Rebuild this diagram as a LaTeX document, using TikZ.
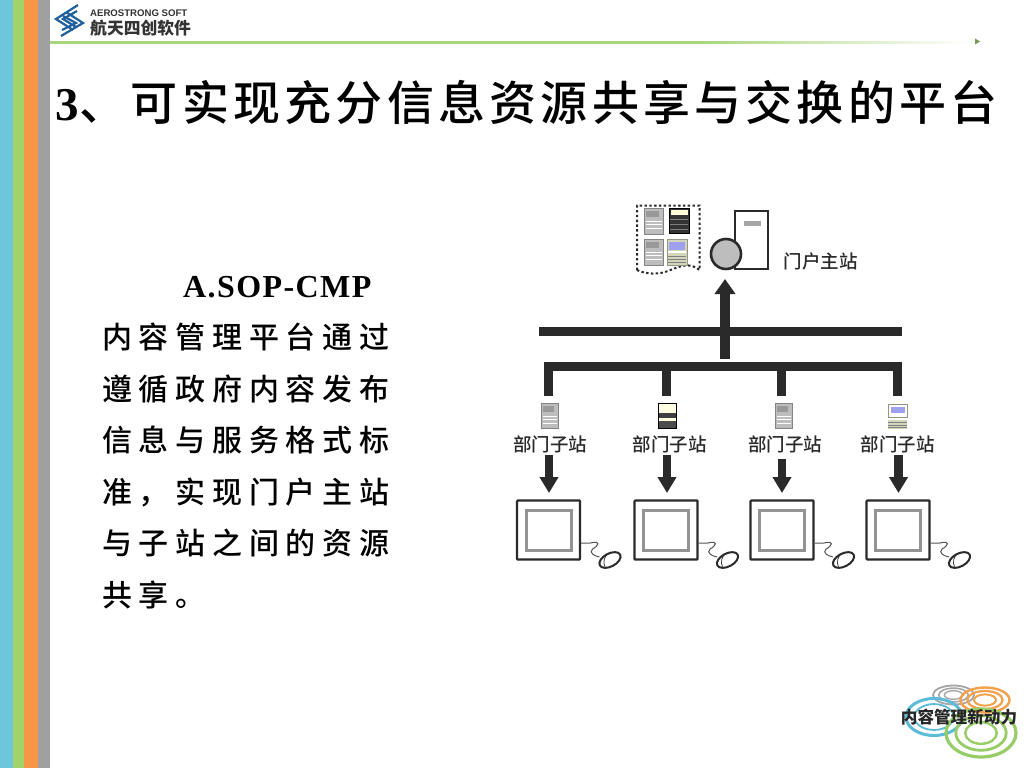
\documentclass[tikz,border=0pt]{standalone}
\usepackage{fontspec}
\usetikzlibrary{arrows.meta,shapes.geometric}
\setmainfont{Liberation Serif}
\setsansfont{Liberation Sans}
\newfontfamily\cjk{Noto Sans CJK SC}
\newfontfamily\cjktitle[LetterSpace=9]{Noto Sans CJK SC Medium}
\newfontfamily\cjkbody[LetterSpace=22.4]{Noto Sans CJK SC Medium}
\newfontfamily\cjklabel{Noto Sans CJK SC Medium}
\definecolor{bandblue}{HTML}{6EC6DC}
\definecolor{bandgreen}{HTML}{A0D468}
\definecolor{bandorange}{HTML}{F79646}
\definecolor{bandgrey}{HTML}{A0A0A0}
\definecolor{rulegreen}{HTML}{A8D67E}
\definecolor{barink}{HTML}{2A2A2A}
\definecolor{logoblue}{HTML}{1F5F9E}
\definecolor{ringgrey}{HTML}{A6A6A6}
\definecolor{ringorange}{HTML}{F5A04A}
\definecolor{ringblue}{HTML}{5CBBD8}
\definecolor{ringgreen}{HTML}{97CC66}
\definecolor{srvgrey}{HTML}{BDBDBD}
\definecolor{srvblue}{HTML}{A0A0F0}
\definecolor{srvkhaki}{HTML}{D4D6BC}
\tikzset{
  busbar/.style={draw=barink,line width=9pt},
  flowarrow/.style={draw=barink,fill=barink,line width=8.5pt,-{Triangle[length=16pt,width=18pt]}},
  stationlabel/.style={font=\cjklabel\fontsize{18.5}{20}\selectfont,text=barink,inner sep=0pt},
  monitorouter/.style={draw=barink,line width=2.2pt,fill=white,rounded corners=0.8pt,inner sep=0pt,minimum width=63pt,minimum height=59pt},
  monitorinner/.style={draw=gray!85,line width=3pt,fill=white,inner sep=0pt,minimum width=45pt,minimum height=40pt},
  mousebody/.style={ellipse,draw=barink,line width=2pt,fill=white,inner sep=0pt,minimum width=23pt,minimum height=13pt,rotate=28},
  cordline/.style={draw=barink!80,line width=1pt},
}
\newcommand{\serverrow}[5]{% x y w h colour
  \draw[#5!70!black,line width=0.6pt,fill=#5] (#1,#2) rectangle ++(#3,#4);
  \fill[gray!80] (#1+2,#2+3) rectangle ++(#3-6,6);
  \foreach \yy in {13,16.5,20}{\draw[white,line width=0.7pt] (#1+1.5,#2+\yy) -- ++(#3-3,0);}
}
\begin{document}
\begin{tikzpicture}[x=1pt,y=-1pt]
\useasboundingbox (0,0) rectangle (1024,768);
\fill[white] (0,0) rectangle (1024,768);
% side bands
\fill[bandblue] (0,0) rectangle (13,768);
\fill[bandgreen] (13,0) rectangle (24,768);
\fill[bandorange] (24,0) rectangle (37.5,768);
\fill[bandgrey] (37.5,0) rectangle (50,768);
% header rule
\fill[rulegreen] (50,41) rectangle (700,44);
\foreach \i in {0,...,54}{
  \pgfmathsetmacro{\mixv}{100-\i*1.85}
  \fill[rulegreen!\mixv!white] (700+\i*5,41) rectangle ++(5.2,3);
}
\fill[rulegreen!70!black] (975,38.5) -- (980,41.5) -- (975,44.5) -- cycle;
% company logo
\draw[logoblue,line width=2.2pt,line join=miter] (78,5) -- (56,19) -- (73,30);
\draw[logoblue,line width=2.2pt,line join=miter] (77,11) -- (63,19) -- (76,27);
\draw[logoblue,line width=2.2pt,line join=miter] (61,36) -- (83,23) -- (66,12);
\draw[logoblue,line width=2.2pt,line join=miter] (62,30) -- (76,23) -- (63,16);
\node[anchor=west,inner sep=0pt,font=\sffamily\bfseries\fontsize{9.6}{10}\selectfont,text=black!80] (logoen) at (90,13.5) {AEROSTRONG SOFT};
\node[anchor=west,inner sep=0pt,font=\cjk\bfseries\fontsize{16.8}{18}\selectfont,text=black!80] (logocn) at (90,28.5) {航天四创软件};
% title
\node[anchor=west,inner sep=0pt,font=\fontsize{47}{50}\selectfont,text=black] (title) at (55,102) {{\bfseries 3}\hspace{1pt}{\cjktitle 、可实现充分信息资源共享与交换的平台}};
% body
\node[anchor=north west,inner sep=0pt,align=left,font=\fontsize{30}{51.5}\selectfont,text=black] (body) at (102,276) {%
\hspace*{81pt}{\bfseries\fontsize{32}{51.5}\selectfont\addfontfeature{LetterSpace=4.4} A.SOP-CMP}\\
{\cjkbody 内容管理平台通过}\\
{\cjkbody 遵循政府内容发布}\\
{\cjkbody 信息与服务格式标}\\
{\cjkbody 准，实现门户主站}\\
{\cjkbody 与子站之间的资源}\\
{\cjkbody 共享。}};
% main station cluster
\draw[barink,line width=2pt,dash pattern=on 2.4pt off 2.4pt] (637,270) -- (637,205.5) -- (699.5,205.5) -- (699.5,270) .. controls (690,262) and (680,266) .. (668,271) .. controls (658,275) and (645,274) .. (637,270);
\serverrow{644}{208}{19}{26}{srvgrey}
\draw[black,fill=black!80,line width=0.6pt] (669,208) rectangle (689,233);
\fill[yellow!15] (670.5,210) rectangle (687.5,215);
\foreach \yy in {219,224,229}{\draw[gray,line width=0.8pt] (670,\yy) -- (688,\yy);}
\serverrow{644}{239}{19}{26}{srvgrey}
\draw[srvkhaki!70!black,fill=srvkhaki,line width=0.6pt] (667,239) rectangle (687,265);
\fill[srvblue] (669,242) rectangle (685,250);
\fill[white] (668,251) rectangle (686,253);
\foreach \yy in {256,259,262}{\draw[gray,line width=0.7pt] (668,\yy) -- (686,\yy);}
\node[draw=barink,line width=2.2pt,fill=white,inner sep=0pt,minimum width=33pt,minimum height=58pt] (doc) at (751.5,240) {};
\fill[gray!70] (744,221) rectangle (761,226);
\node[circle,draw=barink,line width=2.6pt,fill=srvgrey,inner sep=0pt,minimum size=30pt] (globe) at (726,254) {};
\node[stationlabel] (mainlabel) at (820.5,261) {门户主站};
% buses
\coordinate (topbusL) at (539,331.5);
\coordinate (topbusR) at (902,331.5);
\coordinate (riserbot) at (725,359);
\coordinate (risertop) at (725,279);
\draw[busbar] (topbusL) -- (topbusR);
\draw[flowarrow,line width=10pt,-{Triangle[length=15pt,width=20pt]}] (riserbot) -- (risertop);
\coordinate (dropA) at (548.5,396);
\coordinate (dropB) at (666.5,396);
\coordinate (dropC) at (781.5,396);
\coordinate (dropD) at (897.5,396);
\draw[busbar,line join=miter] (dropA) -- (548.5,366.5) -- (897.5,366.5) -- (dropD);
\draw[busbar] (666.5,366.5) -- (dropB);
\draw[busbar] (781.5,366.5) -- (dropC);
% department servers
\serverrow{541}{403}{17}{25}{srvgrey}
\draw[black,fill=yellow!12,line width=0.8pt] (658.5,403.5) rectangle (676.5,428);
\fill[black!75] (659,413) rectangle (676,418);
\fill[black!70] (659,420.5) rectangle (676,428);
\serverrow{775}{403}{17}{25}{srvgrey}
\draw[srvkhaki!70!black,fill=white,line width=0.6pt] (888,404) rectangle (907,417);
\fill[srvblue] (890.5,406.5) rectangle (904.5,413);
\fill[srvkhaki] (888,420) rectangle (907,429);
\foreach \yy in {422.5,425,427.5}{\draw[gray,line width=0.5pt] (888,\yy) -- (907,\yy);}
% labels
\node[stationlabel] (labA) at (550,444) {部门子站};
\node[stationlabel] (labB) at (669.5,444) {部门子站};
\node[stationlabel] (labC) at (785,444) {部门子站};
\node[stationlabel] (labD) at (897.5,444) {部门子站};
% monitors
\foreach \nm/\cx in {A/548.5,B/666,C/782,D/898}{
  \node[monitorouter] (mon\nm) at (\cx,530) {};
  \node[monitorinner] (scr\nm) at (\cx,530) {};
  \draw[cordline] (mon\nm.east |- 0,543) -- (\cx+42,543) .. controls (\cx+53,540) and (\cx+50,546) .. (\cx+44,549) .. controls (\cx+40,553) and (\cx+46,556) .. (\cx+51,557);
  \node[mousebody] (mouse\nm) at (\cx+61.5,560) {};
  \draw[barink,line width=0.7pt] (\cx+56.5,567) .. controls (\cx+54,562) and (\cx+56,556) .. (\cx+60,553);
}
% arrows
\coordinate (arrAs) at (549,455);
\coordinate (arrAe) at (549,493);
\coordinate (arrBs) at (667,455);
\coordinate (arrBe) at (667,493);
\coordinate (arrCs) at (782,459);
\coordinate (arrCe) at (782,493);
\coordinate (arrDs) at (898.5,455);
\coordinate (arrDe) at (898.5,493);
\foreach \nm in {A,B,C,D}{\draw[flowarrow] (arr\nm s) -- (arr\nm e);}
% bottom-right logo
\foreach \r/\w in {1/1.8,0.72/1.6,0.45/1.4}{
  \draw[ringgrey,line width=\w pt] (953.5,695) ellipse [x radius=20.5*\r,y radius=9.5*\r];
}
\foreach \r/\w in {1/2.4,0.72/2.2,0.45/2}{
  \draw[ringorange,line width=\w pt] (985,700) ellipse [x radius=24.5*\r,y radius=12.5*\r];
}
\foreach \r/\w in {1/3,0.7/1.8}{
  \draw[ringblue,line width=\w pt] (934,717) ellipse [x radius=28*\r,y radius=18.5*\r];
}
\foreach \r/\w in {1/3.2,0.72/2.8,0.45/2.4}{
  \draw[ringgreen,line width=\w pt] (981,733) ellipse [x radius=35*\r,y radius=24*\r];
}
\node[inner sep=0pt,font=\cjk\bfseries\fontsize{16.6}{18}\selectfont,text=black!85] (slogan) at (959,717) {内容管理新动力};
\end{tikzpicture}
\end{document}
